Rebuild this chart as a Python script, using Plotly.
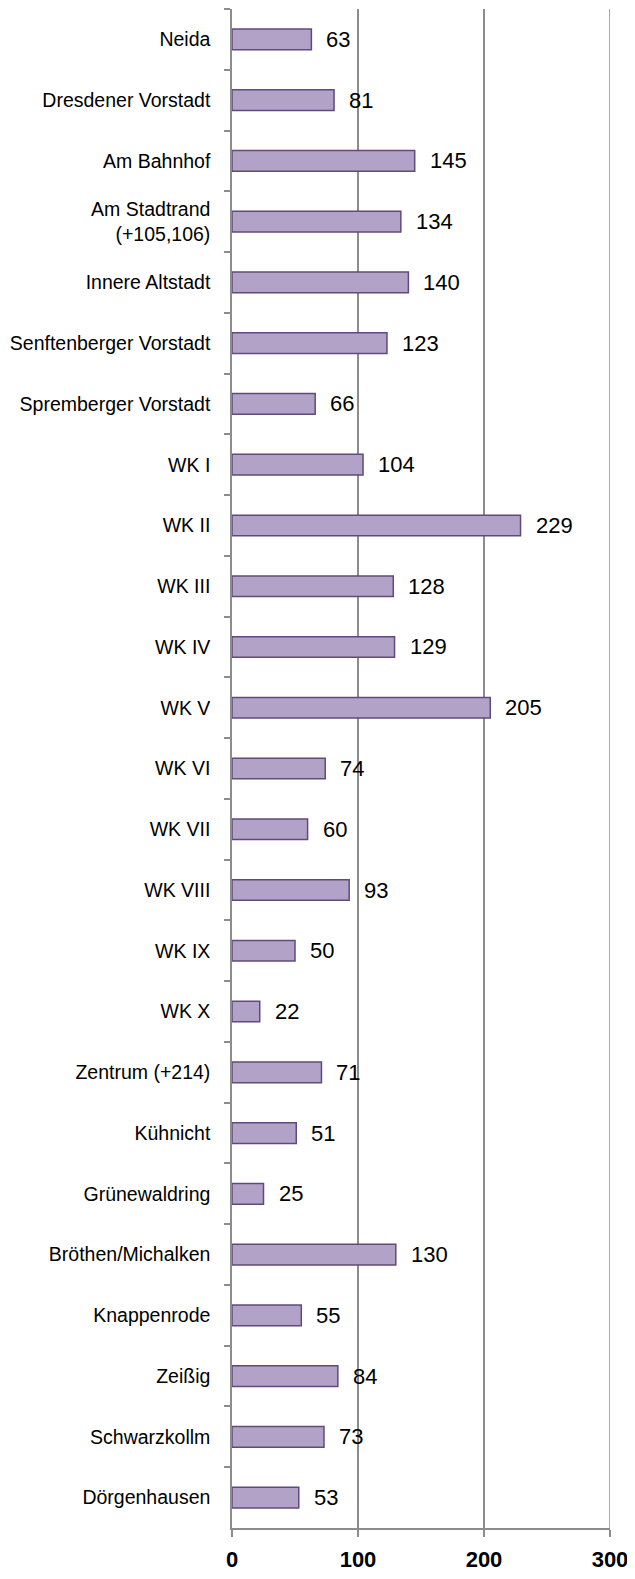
import plotly.graph_objects as go

categories = ["Neida", "Dresdener Vorstadt", "Am Bahnhof", "Am Stadtrand<br>(+105,106)",
              "Innere Altstadt", "Senftenberger Vorstadt", "Spremberger Vorstadt",
              "WK I", "WK II", "WK III", "WK IV", "WK V", "WK VI", "WK VII", "WK VIII",
              "WK IX", "WK X", "Zentrum (+214)", "Kühnicht", "Grünewaldring",
              "Bröthen/Michalken", "Knappenrode", "Zeißig", "Schwarzkollm", "Dörgenhausen"]
values = [63, 81, 145, 134, 140, 123, 66, 104, 229, 128, 129, 205, 74, 60, 93,
          50, 22, 71, 51, 25, 130, 55, 84, 73, 53]
x_ticks = [0, 100, 200, 300]

FONT = "Liberation Sans, Arial, sans-serif"
GRID = "#8C8C8C"

fig = go.Figure()
fig.add_trace(go.Bar(
    x=values, y=categories, orientation="h",
    marker=dict(color="#B3A2C7", line=dict(color="#5F4B7B", width=1.5)),
    width=0.34,
))

for c, v in zip(categories, values):
    fig.add_annotation(x=v, y=c, text=str(v), showarrow=False, xanchor="left",
                       xshift=13, font=dict(family=FONT, size=22, color="black"))

# gridline at the right edge of the range (Plotly drops the edge gridline)
fig.add_vline(x=x_ticks[-1], line=dict(color=GRID, width=1.5), layer="below")

# page body has an 8px default margin; the figure is offset by (8, 8)
fig.update_layout(
    width=627, height=1563,
    margin=dict(l=224, r=25, t=1, b=43),
    plot_bgcolor="white", paper_bgcolor="white",
    showlegend=False,
)
fig.update_xaxes(
    range=[0, 300], tickvals=x_ticks, ticktext=[f"<b>{t}</b>" for t in x_ticks],
    showgrid=True, gridcolor=GRID, gridwidth=1.5,
    showline=True, linecolor=GRID, linewidth=1.5,
    ticks="outside", ticklen=7, tickcolor=GRID, tickwidth=1.5,
    tickfont=dict(family=FONT, size=22, color="black"),
    ticklabelstandoff=4,
    zeroline=False, automargin=False,
)
fig.update_yaxes(
    autorange="reversed", type="category",
    showline=True, linecolor=GRID, linewidth=1.5,
    ticks="outside", tickson="boundaries", ticklen=6, tickcolor=GRID, tickwidth=1.5,
    tickfont=dict(family=FONT, size=19.5, color="black"),
    ticklabelstandoff=16,
    showgrid=False, automargin=False,
)

fig.write_html("out.html")
